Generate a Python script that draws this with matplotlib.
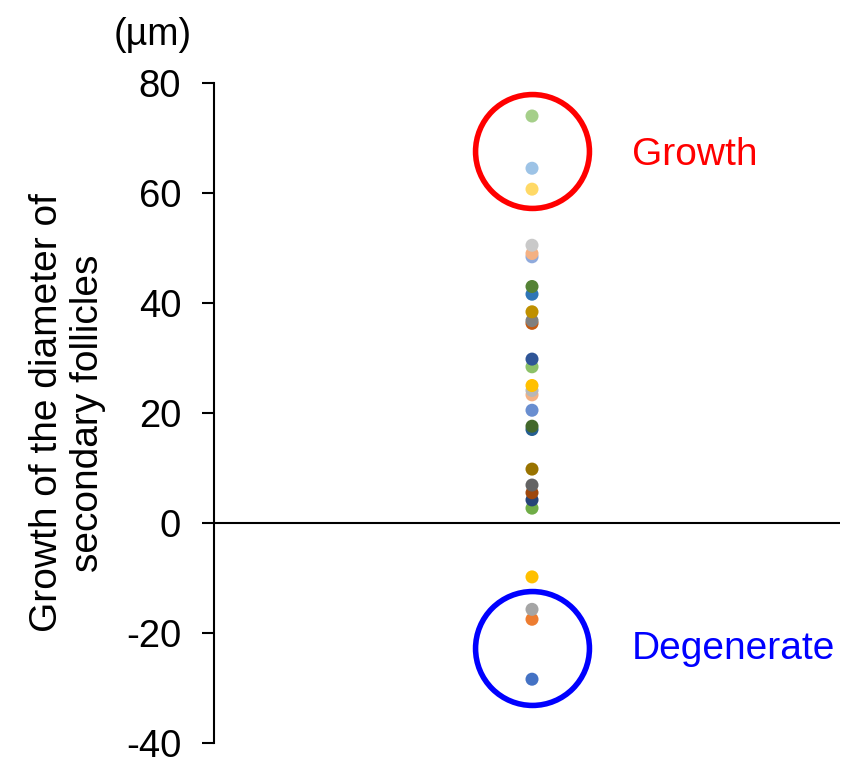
import matplotlib.pyplot as plt

plt.rcParams['font.family'] = ['Liberation Sans', 'DejaVu Sans']
plt.rcParams['axes.unicode_minus'] = False

# growth of each follicle (um) and its point colour
growth = [74.0, 64.5, 60.7, 50.5, 49.0, 48.4, 43.0, 41.6, 38.4, 36.8, 36.3,
          29.8, 28.4, 25.0, 24.1, 23.3, 20.5, 17.6, 17.0, 9.8, 6.9, 5.5,
          4.2, 2.7, -9.8, -15.7, -17.5, -28.4]
colors = ['#A5CF8A', '#9DC3E6', '#FFD966', '#C9C9C9', '#F4B183', '#8FAADC',
          '#548235', '#2E75B6', '#BF9000', '#7F7F7F', '#C55A11',
          '#2F5597', '#8CC168', '#FFC000', '#B7B7B7', '#F4B183', '#698ED0',
          '#43682B', '#255E91', '#997300', '#636363', '#9E480E',
          '#264478', '#70AD47', '#FFC000', '#A5A5A5', '#ED7D31', '#4472C4']
x_pos = 0.508

# highlighted groups
groups = ['Growth', 'Degenerate']
group_y = [67.6, -22.7]
group_colors = ['#FF0000', '#0000FF']
label_y = [66.9, -22.9]

fig = plt.figure(figsize=(8.41, 7.6), dpi=100)
ax = fig.add_axes([214 / 841, 17 / 760, 626 / 841, 660 / 760])

# lower values first so upper dots sit on top
order = sorted(range(len(growth)), key=lambda i: growth[i])
for i in order:
    ax.scatter(x_pos, growth[i], s=88, color=colors[i], edgecolors='none', zorder=3)

ax.axhline(0, color='black', lw=1.5, zorder=2)

for g, gy, gc, ly in zip(groups, group_y, group_colors, label_y):
    ax.plot(x_pos, gy, marker='o', markersize=82, markerfacecolor='none',
            markeredgecolor=gc, markeredgewidth=4.0, zorder=4)
    ax.text(0.668, ly, g, color=gc, fontsize=28, ha='left', va='center')

ax.set_xlim(0, 1)
ax.set_ylim(-40, 80)
ax.set_yticks(range(-40, 81, 20))
ax.tick_params(axis='y', direction='out', length=8.6, width=1.5, labelsize=27.5, pad=15)
ax.set_xticks([])
for side in ['top', 'right', 'bottom']:
    ax.spines[side].set_visible(False)
ax.spines['left'].set_linewidth(1.5)

ax.set_ylabel('Growth of the diameter of\nsecondary follicles', fontsize=28)
ax.yaxis.set_label_coords(-0.172, 0.5)
fig.text(153 / 841, 1 - 35 / 760, '(µm)', fontsize=27, ha='center', va='center')

fig.savefig('out.png', dpi=100)
